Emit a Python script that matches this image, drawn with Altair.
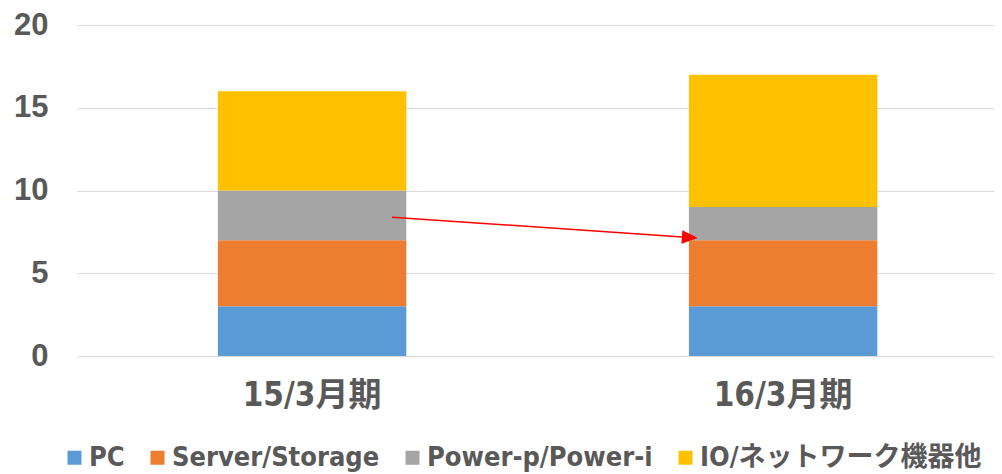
import altair as alt
import pandas as pd

periods = ["15/3月期", "16/3月期"]
series = ["PC", "Server/Storage", "Power-p/Power-i", "IO/ネットワーク機器他"]
pc = [3, 3]
server = [4, 4]
power = [3, 2]
io = [6, 8]
colors = ["#5B9BD5", "#ED7D31", "#A5A5A5", "#FFC000"]

arrow_from = ["15/3月期"]
arrow_to = ["16/3月期"]
arrow_y1 = [8.39]
arrow_y2 = [7.16]

rows = []
for i, p in enumerate(periods):
    for k, (s, vals) in enumerate(zip(series, [pc, server, power, io])):
        rows.append({"period": p, "series": s, "value": vals[i], "order": k})
df = pd.DataFrame(rows)

arrow_df = pd.DataFrame({"x1": arrow_from, "x2": arrow_to, "y1": arrow_y1, "y2": arrow_y2})

cond = "DejaVu Sans Condensed, Noto Sans CJK JP, sans-serif"
txt = "#595959"

xscale = alt.Scale(domain=periods, paddingInner=0.6, paddingOuter=0.2734, align=0.547)
yscale = alt.Scale(domain=[0, 20])

xaxis = alt.Axis(title=None, labelAngle=0, domain=False, ticks=False,
                 labelFont=cond, labelFontSize=33, labelFontWeight="bold",
                 labelColor=txt, labelPadding=23)
yaxis = alt.Axis(title=None, values=[0, 5, 10, 15, 20], domain=False, ticks=False,
                 gridColor="#D9D9D9", gridWidth=1,
                 labelFont="Liberation Sans", labelFontSize=31, labelFontWeight="bold",
                 labelColor=txt, labelPadding=29)

bars = alt.Chart(df).mark_bar().encode(
    x=alt.X("period:N", scale=xscale, sort=periods, axis=xaxis),
    y=alt.Y("value:Q", stack="zero", scale=yscale, axis=yaxis),
    color=alt.Color("series:N", scale=alt.Scale(domain=series, range=colors),
                    legend=alt.Legend(title=None, orient="none", legendX=-16, legendY=419,
                                      padding=0, direction="horizontal", symbolType="square",
                                      symbolSize=196, symbolStrokeWidth=0,
                                      labelFont=cond, labelFontSize=27, labelFontWeight="bold",
                                      labelColor=txt, labelLimit=0, columnPadding=19,
                                      labelOffset=1)),
    order=alt.Order("order:Q", sort="ascending"),
)

rule = alt.Chart(arrow_df).mark_rule(color="#FF0000", strokeWidth=1.5).encode(
    x=alt.X("x1:N", bandPosition=0.924, sort=periods, scale=xscale, axis=xaxis),
    x2=alt.X2("x2", bandPosition=0.005),
    y=alt.Y("y1:Q", scale=yscale, axis=yaxis),
    y2=alt.Y2("y2"),
)

head = alt.Chart(arrow_df).mark_point(
    shape="M-1,-0.85L1,0L-1,0.85Z", size=256, angle=4, filled=True,
    color="#FF0000", opacity=1, strokeWidth=0,
).encode(
    x=alt.X("x2:N", bandPosition=0.005, sort=periods, scale=xscale, axis=xaxis),
    y=alt.Y("y2:Q", scale=yscale, axis=yaxis),
)

chart = alt.layer(bars, rule, head).properties(
    width=917, height=331,
    autosize=alt.AutoSizeParams(type="none"),
    padding={"left": 69, "top": 17, "right": 0, "bottom": 118},
).configure_view(stroke=None)

chart.save("out.html", embed_options={"renderer": "svg", "actions": False})
